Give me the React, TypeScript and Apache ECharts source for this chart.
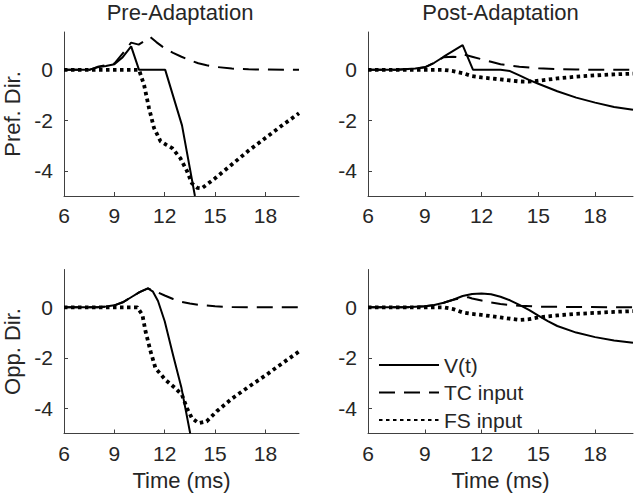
import React, { useEffect, useRef } from "react";
import * as echarts from "echarts";

type P = [number, number][];

// Panel titles and axis labels
const colTitles = ["Pre-Adaptation", "Post-Adaptation"];
const rowLabels = ["Pref. Dir.", "Opp. Dir."];
const xLabel = "Time (ms)";
const seriesNames = ["V(t)", "TC input", "FS input"];
const xTicks = [6, 9, 12, 15, 18];
const yTicks = [-4, -2, 0];

// Pre-Adaptation, Preferred direction
const prePrefV: P = [[6, 0], [7.5, 0], [8, 0.1], [8.5, 0.15], [9, 0.22], [9.5, 0.5], [10, 0.93], [10.47, 0], [12.03, 0], [13.03, -2.2], [13.8, -5]];
const prePrefTC: P = [[6, 0], [7.5, 0], [8, 0.12], [8.5, 0.18], [9, 0.25], [9.5, 0.65], [10, 1.08], [10.45, 1.0], [11.15, 1.3], [11.5, 1.1], [12, 0.85], [12.5, 0.67], [13, 0.52], [13.5, 0.38], [14, 0.26], [14.5, 0.18], [15, 0.12], [16, 0.05], [17, 0.02], [18, 0.01], [20, 0]];
const prePrefFS: P = [[6, 0], [10.47, 0], [10.77, -0.6], [11.06, -1.5], [11.36, -2.3], [11.75, -2.83], [12.1, -2.97], [12.44, -3.1], [12.93, -3.5], [13.32, -4.0], [13.62, -4.5], [13.95, -4.68], [14.2, -4.7], [14.6, -4.5], [15, -4.3], [16, -3.75], [17, -3.2], [18, -2.7], [19, -2.2], [20, -1.72]];

// Post-Adaptation, Preferred direction
const postPrefV: P = [[6, 0], [7.5, 0], [8.5, 0.05], [9, 0.1], [9.5, 0.28], [10, 0.52], [10.5, 0.75], [11, 0.98], [11.55, 0], [13, 0], [13.5, -0.05], [14, -0.22], [14.5, -0.4], [15, -0.55], [16, -0.85], [17, -1.1], [18, -1.3], [19, -1.47], [20, -1.58]];
const postPrefTC: P = [[6, 0], [7.5, 0], [8.5, 0.05], [9, 0.1], [9.5, 0.28], [10, 0.5], [10.5, 0.52], [10.8, 0.5], [11.1, 0.6], [11.5, 0.52], [12, 0.42], [12.5, 0.32], [13, 0.22], [14, 0.12], [15, 0.06], [16, 0.03], [17, 0.01], [20, 0]];
const postPrefFS: P = [[6, 0], [10, 0], [10.5, -0.05], [11, -0.13], [11.5, -0.25], [12, -0.3], [13, -0.38], [14, -0.46], [14.5, -0.47], [15, -0.43], [16, -0.34], [17, -0.27], [18, -0.22], [19, -0.18], [20, -0.15]];

// Pre-Adaptation, Opposite direction
const preOppV: P = [[6, 0], [8, 0], [8.5, 0.03], [9, 0.08], [9.5, 0.2], [10, 0.4], [10.5, 0.6], [11, 0.75], [11.3, 0.62], [11.6, 0.25], [12, -0.55], [12.5, -1.9], [13, -3.2], [13.52, -5]];
const preOppTC: P = [[6, 0], [8, 0], [8.5, 0.03], [9, 0.08], [9.5, 0.2], [10, 0.4], [10.5, 0.6], [11, 0.75], [11.5, 0.62], [12, 0.47], [12.5, 0.33], [13, 0.22], [13.5, 0.15], [14, 0.1], [15, 0.04], [16, 0.01], [20, 0]];
const preOppFS: P = [[6, 0], [10.37, 0], [10.67, -0.3], [10.86, -0.96], [11.16, -1.75], [11.45, -2.41], [12.04, -2.87], [12.63, -3.2], [13.03, -3.47], [13.32, -3.99], [13.62, -4.39], [14.01, -4.59], [14.5, -4.52], [15.1, -4.12], [16, -3.62], [17, -3.15], [18, -2.7], [19, -2.22], [20, -1.75]];

// Post-Adaptation, Opposite direction
const postOppV: P = [[6, 0], [8, 0], [9, 0.04], [9.5, 0.09], [10, 0.18], [10.5, 0.3], [11, 0.45], [11.5, 0.53], [12, 0.55], [12.5, 0.52], [13, 0.42], [13.5, 0.28], [14, 0.1], [14.5, -0.1], [15, -0.33], [15.5, -0.55], [16, -0.74], [17, -1.0], [18, -1.18], [19, -1.31], [20, -1.4]];
const postOppTC: P = [[6, 0], [8, 0], [9, 0.04], [9.5, 0.09], [10, 0.18], [10.5, 0.3], [11, 0.38], [11.3, 0.4], [11.5, 0.35], [12, 0.27], [12.5, 0.19], [13, 0.13], [14, 0.06], [15, 0.03], [16, 0.02], [20, 0]];
const postOppFS: P = [[6, 0], [10, 0], [10.5, -0.07], [11, -0.2], [11.5, -0.26], [12, -0.3], [13, -0.4], [14, -0.5], [14.5, -0.47], [15, -0.4], [16, -0.32], [17, -0.26], [18, -0.22], [19, -0.18], [20, -0.15]];

const panels: P[][] = [
  [prePrefV, prePrefTC, prePrefFS],
  [postPrefV, postPrefTC, postPrefFS],
  [preOppV, preOppTC, preOppFS],
  [postOppV, postOppTC, postOppFS],
];

const FONT = "'Liberation Sans', Arial, Helvetica, sans-serif";
const TXT = "#262626";
const AX = "#404040";

export default function App() {
  const ref = useRef<HTMLDivElement>(null);
  useEffect(() => {
    if (!ref.current) return;
    const chart = echarts.init(ref.current, undefined, { renderer: "svg" });
    const grids = [
      { left: 61, top: 32, width: 238, height: 164 },
      { left: 368, top: 32, width: 265, height: 164 },
      { left: 61, top: 269.5, width: 238, height: 164 },
      { left: 368, top: 269.5, width: 265, height: 164 },
    ];
    const lineStyles = [
      { type: "solid", width: 2 },
      { type: [16, 9], width: 2 },
      { type: [3.5, 3.5], width: 3.8, cap: "butt" },
    ];
    const xAxes = grids.map((_, i) => ({
      type: "value",
      gridIndex: i,
      min: 6,
      max: 20,
      name: i >= 2 ? xLabel : "",
      nameLocation: "middle",
      nameGap: 36,
      nameTextStyle: { fontFamily: FONT, fontSize: 22, color: TXT },
      axisLine: { show: true, onZero: false, lineStyle: { color: AX, width: 1 } },
      axisTick: { show: true, inside: true, length: 4, lineStyle: { color: AX }, customValues: xTicks },
      axisLabel: { fontFamily: FONT, fontSize: 21, color: TXT, margin: 9, customValues: xTicks },
      splitLine: { show: false },
    }));
    const yAxes = grids.map((_, i) => ({
      type: "value",
      gridIndex: i,
      min: -5,
      max: 1.5,
      name: i % 2 === 0 ? rowLabels[i / 2] : "",
      nameLocation: "middle",
      nameGap: 41,
      nameTextStyle: { fontFamily: FONT, fontSize: 22, color: TXT },
      axisLine: { show: true, onZero: false, lineStyle: { color: AX, width: 1 } },
      axisTick: { show: true, inside: true, length: 4, lineStyle: { color: AX }, customValues: yTicks },
      axisLabel: { fontFamily: FONT, fontSize: 21, color: TXT, margin: 11, customValues: yTicks },
      splitLine: { show: false },
    }));
    const series: any[] = [];
    panels.forEach((panel, gi) => {
      panel.forEach((data, si) => {
        series.push({
          type: "line",
          name: seriesNames[si],
          xAxisIndex: gi,
          yAxisIndex: gi,
          data,
          showSymbol: false,
          symbol: "none",
          clip: true,
          itemStyle: { color: "#000" },
          lineStyle: { color: "#000", ...lineStyles[si] },
          z: 3 - si,
        });
      });
    });
    chart.setOption({
      animation: false,
      backgroundColor: "#fff",
      title: colTitles.map((t, i) => ({
        text: t,
        left: grids[i].left + grids[i].width / 2,
        textAlign: "center",
        top: 1,
        padding: 0,
        textStyle: { fontFamily: FONT, fontSize: 22, fontWeight: "normal", color: TXT },
      })),
      grid: grids,
      xAxis: xAxes,
      yAxis: yAxes,
      legend: {
        orient: "vertical",
        left: 378,
        top: 354,
        padding: 0,
        itemWidth: 60,
        itemHeight: 14,
        itemGap: 5.5,
        selectedMode: false,
        itemStyle: { opacity: 0 },
        textStyle: { fontFamily: FONT, fontSize: 21, color: TXT, lineHeight: 22 },
        data: seriesNames,
      },
      series,
    } as any);
    return () => chart.dispose();
  }, []);
  return (
    <div
      ref={ref}
      style={{ position: "fixed", left: 0, top: 0, width: 638, height: 499, background: "#fff" }}
    />
  );
}
